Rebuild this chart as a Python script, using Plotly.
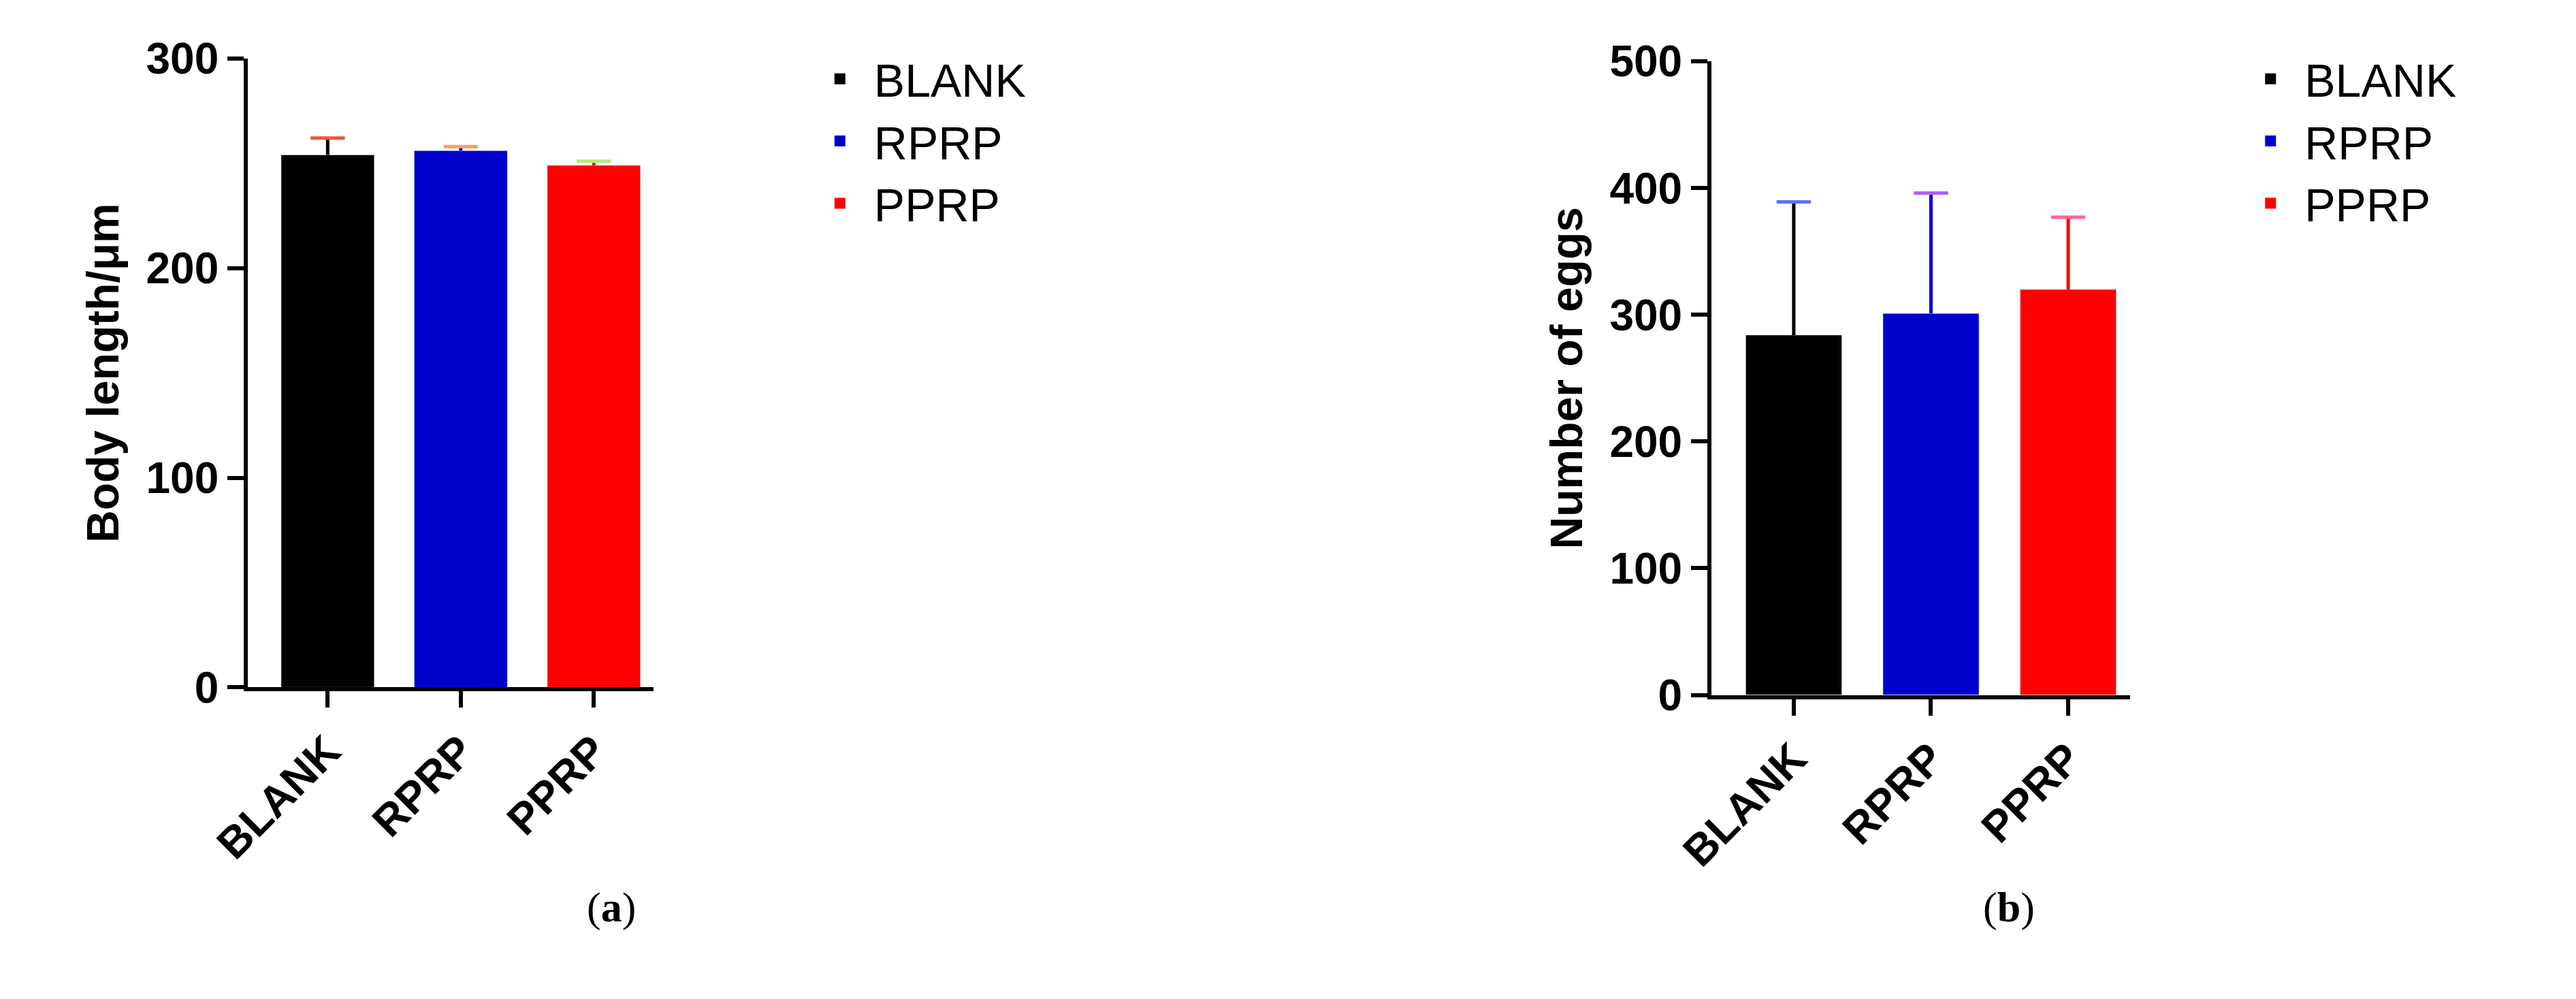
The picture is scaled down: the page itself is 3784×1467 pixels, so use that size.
import plotly.graph_objects as go

groups = ['BLANK', 'RPRP', 'PPRP']
colors = ['#000000', '#0000CC', '#FF0000']
body_len = [254, 256, 249]
body_err = [8, 2, 2]
eggs = [284, 301, 320]
eggs_err = [105, 95, 57]

F = 'Liberation Sans, Arial, sans-serif'
fig = go.Figure()
panels = [(body_len, body_err, 'x', 'y', 'legend'), (eggs, eggs_err, 'x2', 'y2', 'legend2')]
for vals, errs, xa_, ya_, lg in panels:
    for i, g in enumerate(groups):
        fig.add_trace(go.Bar(x=[g], y=[vals[i]], name=g, marker_color=colors[i], width=0.7,
                             showlegend=False, xaxis=xa_, yaxis=ya_,
                             error_y=dict(type='data', array=[errs[i]], arrayminus=[0],
                                          color=colors[i], thickness=5, width=0)))
        # top cap of the error bar
        fig.add_trace(go.Scatter(x=[g], y=[vals[i] + errs[i]], mode='markers', showlegend=False,
                                 marker=dict(symbol='line-ew-open', size=36,
                                             line=dict(color=colors[i], width=5)),
                                 xaxis=xa_, yaxis=ya_, hoverinfo='skip'))
        # legend entry with a big square swatch
        fig.add_trace(go.Scatter(x=[None], y=[None], mode='markers', name=g, legend=lg,
                                 marker=dict(symbol='square', size=58, color=colors[i]),
                                 xaxis=xa_, yaxis=ya_))

ax = dict(showline=True, linewidth=6, linecolor='black', ticks='outside', ticklen=24,
          tickwidth=6, tickcolor='black', showgrid=False, zeroline=False,
          tickfont=dict(family=F, size=64, color='black', weight='bold'))
xa = dict(ax, tickangle=-45, range=[-0.6, 2.45])
tfont = dict(family=F, size=66, color='black', weight='bold')
lfont = dict(family=F, size=68, color='black')
fig.update_layout(
    width=3784, height=1467, plot_bgcolor='white', paper_bgcolor='white',
    showlegend=True, barmode='overlay', margin=dict(l=0, r=0, t=0, b=0),
    xaxis=dict(xa, domain=[0.08, 0.24], anchor='y'),
    yaxis=dict(ax, domain=[0.308, 0.97], range=[0, 300], dtick=100, anchor='x',
               title=dict(text='Body length/μm', font=tfont, standoff=20)),
    xaxis2=dict(xa, domain=[0.657, 0.822], anchor='y2'),
    yaxis2=dict(ax, domain=[0.30, 0.967], range=[0, 500], dtick=100, anchor='x2',
                title=dict(text='Number of eggs', font=tfont, standoff=20)),
    legend=dict(x=0.300, y=0.985, xanchor='left', yanchor='top', itemwidth=90,
                font=lfont, tracegroupgap=40),
    legend2=dict(x=0.864, y=0.985, xanchor='left', yanchor='top', itemwidth=90,
                 font=lfont, tracegroupgap=40),
    annotations=[
        dict(text='(<b>a</b>)', x=0.213, y=0.05, xref='paper', yref='paper', showarrow=False,
             font=dict(family='Liberation Serif, serif', size=62, color='black')),
        dict(text='(<b>b</b>)', x=0.785, y=0.05, xref='paper', yref='paper', showarrow=False,
             font=dict(family='Liberation Serif, serif', size=62, color='black')),
    ],
)
fig.write_html('out.html')
